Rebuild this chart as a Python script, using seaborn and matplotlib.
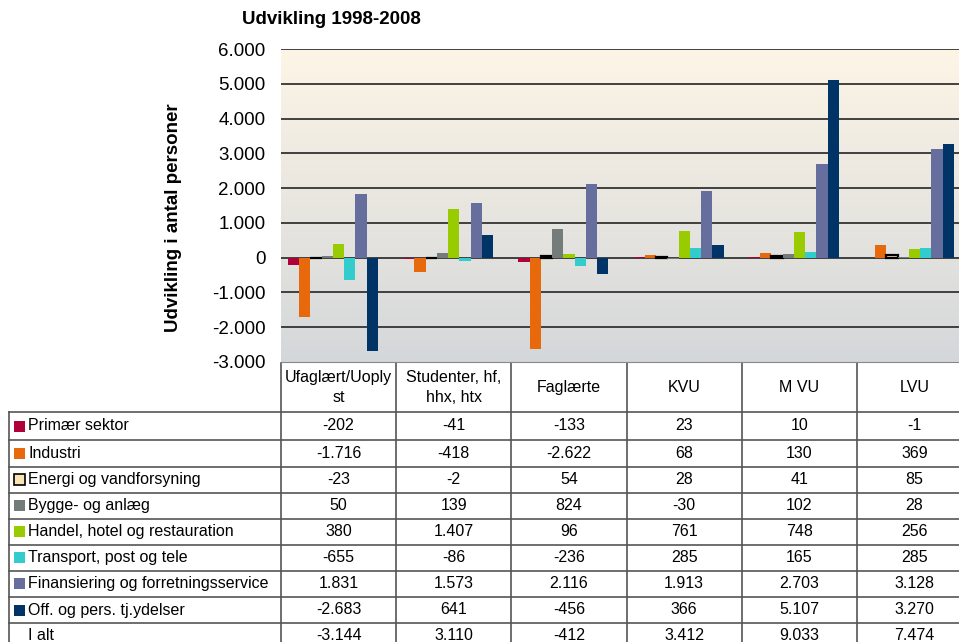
import numpy as np
import pandas as pd
import seaborn as sns
import matplotlib
matplotlib.use("Agg")
import matplotlib.pyplot as plt
from matplotlib.transforms import blended_transform_factory
from matplotlib.patches import Rectangle
from matplotlib.lines import Line2D

categories = ["Ufaglært/Uoply\nst", "Studenter, hf,\nhhx, htx", "Faglærte", "KVU", "M VU", "LVU"]
series = ["Primær sektor", "Industri", "Energi og vandforsyning", "Bygge- og anlæg",
          "Handel, hotel og restauration", "Transport, post og tele",
          "Finansiering og forretningsservice", "Off. og pers. tj.ydelser", "I alt"]
primaer = [-202, -41, -133, 23, 10, -1]
industri = [-1716, -418, -2622, 68, 130, 369]
energi = [-23, -2, 54, 28, 41, 85]
bygge = [50, 139, 824, -30, 102, 28]
handel = [380, 1407, 96, 761, 748, 256]
transport = [-655, -86, -236, 285, 165, 285]
finans = [1831, 1573, 2116, 1913, 2703, 3128]
off = [-2683, 641, -456, 366, 5107, 3270]
ialt = [-3144, 3110, -412, 3412, 9033, 7474]
yticks = [-3000, -2000, -1000, 0, 1000, 2000, 3000, 4000, 5000, 6000]

colors = ["#B0003A", "#E8690B", "#FBE4B4", "#737B7B", "#99CC00", "#33CCCC",
          "#666E9E", "#003366", "#FFFFFF"]

values = [primaer, industri, energi, bygge, handel, transport, finans, off, ialt]
rows = []
for s, vals in zip(series, values):
    for c, v in zip(categories, vals):
        rows.append({"cat": c, "series": s, "val": v})
df = pd.DataFrame(rows)

plt.rcParams["font.family"] = ["Liberation Sans", "DejaVu Sans"]

W, H = 959, 642
fig = plt.figure(figsize=(W / 100, H / 100), dpi=100)
fy = lambda y: 1 - y / H
fx = lambda x: x / W

ax = fig.add_axes([fx(281), fy(362), fx(959) - fx(281), fy(49) - fy(362)])

pal = dict(zip(series, colors))
sns.barplot(data=df, x="cat", y="val", hue="series", hue_order=series, order=categories,
            palette=pal, width=0.88, dodge=True, legend=False, saturation=1,
            linewidth=0, ax=ax, zorder=2)

for i, cont in enumerate(ax.containers):
    for p in cont:
        if i == 2:
            p.set_edgecolor("black")
            p.set_linewidth(1.6)
        if i == 8:
            p.set_visible(False)

x0, x1 = -0.5, -0.5 + (959 - 281) / 115.2
ax.set_xlim(x0, x1)
ax.set_ylim(-3000, 6000)

# gradient background
top = np.array([253, 245, 230]) / 255
bot = np.array([212, 215, 218]) / 255
t = np.linspace(0, 1, 256)[:, None]
grad = (top * (1 - t) + bot * t)[:, None, :]
ax.imshow(grad, extent=[x0, x1, -3000, 6000], aspect="auto", zorder=0,
          interpolation="bilinear")
ax.set_xlim(x0, x1)
ax.set_ylim(-3000, 6000)

ax.set_yticks(yticks)
ax.set_yticklabels([f"{v:,}".replace(",", ".") for v in yticks], fontsize=13.5)
ax.tick_params(axis="y", length=0, pad=11)
ax.tick_params(axis="x", length=0, labelbottom=False)
ax.set_xlabel("")
ax.set_ylabel("")
for s in ["left", "right", "top"]:
    ax.spines[s].set_visible(False)
ax.spines["bottom"].set_color("#888888")
for v in yticks[1:]:
    ax.axhline(v, color="#333333", lw=1.3, zorder=1)

fig.text(fx(331), fy(20), "Udvikling 1998-2008", fontsize=13.5, fontweight="bold",
         ha="center", va="center")
fig.text(fx(174), fy(218), "Udvikling i antal personer", fontsize=13.5, fontweight="bold",
         rotation=90, ha="center", va="center")

# data table
bt = blended_transform_factory(ax.transData, fig.transFigure)
lc = "#555555"
row_b = [412, 440, 466.5, 492.5, 518.5, 544.5, 570.5, 597, 623, 649]
fig.add_artist(Line2D([fx(9), fx(9)], [fy(412), fy(649)], color=lc, lw=1.2))
for k in range(6):
    xv = -0.5 + k
    ax.add_artist(Line2D([xv, xv], [fy(363), fy(649)], color=lc, lw=1.2,
                         transform=bt, clip_on=False))
for yb in row_b:
    fig.add_artist(Line2D([fx(9), fx(959)], [fy(yb), fy(yb)], color=lc, lw=1.2))

fs = 11.5
for k, c in enumerate(categories):
    ax.text(k, fy(387.5), c, transform=bt, ha="center", va="center", fontsize=fs,
            linespacing=1.45, clip_on=False)

for r, (s, vals) in enumerate(zip(series, values)):
    yc = (row_b[r] + row_b[r + 1]) / 2
    if r < 8:
        fig.add_artist(Rectangle((fx(14), fy(yc + 5.5)), fx(11), 11 / H,
                                 facecolor=colors[r],
                                 edgecolor="black" if r == 2 else "none",
                                 lw=1.2 if r == 2 else 0))
    fig.text(fx(28), fy(yc), s, fontsize=fs, ha="left", va="center")
    for k, v in enumerate(vals):
        ax.text(k, fy(yc), f"{v:,}".replace(",", "."), transform=bt, ha="center",
                va="center", fontsize=fs, clip_on=False)

fig.savefig("out.png", dpi=100)
